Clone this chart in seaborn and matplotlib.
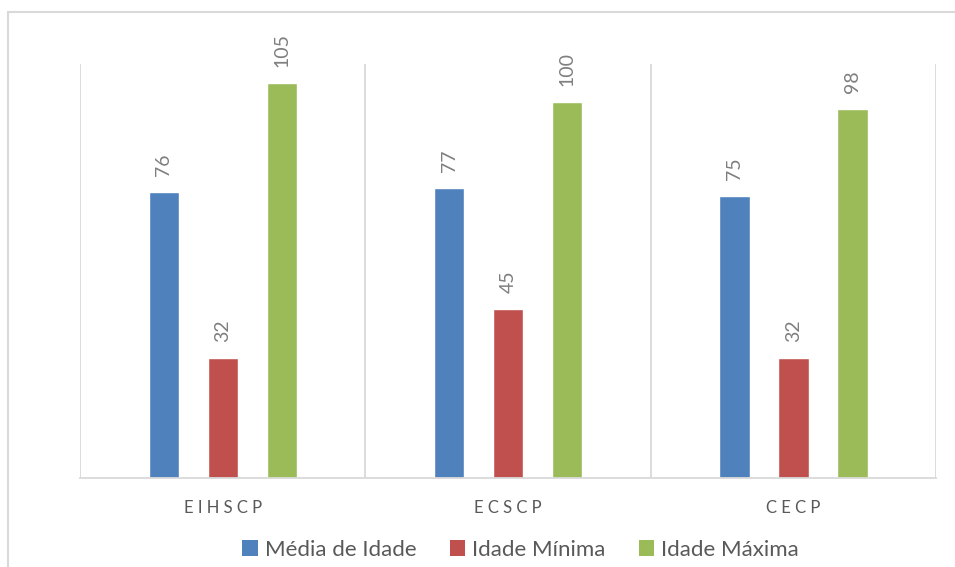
import matplotlib
matplotlib.use("Agg")
import matplotlib.pyplot as plt
import seaborn as sns
import pandas as pd
from matplotlib.patches import Patch
from matplotlib.lines import Line2D

# Hospital / unit groups
categories = ["EIHSCP", "ECSCP", "CECP"]
series = ["Média de Idade", "Idade Mínima", "Idade Máxima"]
media_idade = [76, 77, 75]
idade_minima = [32, 45, 32]
idade_maxima = [105, 100, 98]
colors = ["#4F81BD", "#C0504D", "#9BBB59"]

df = pd.DataFrame({
    "grupo": categories * 3,
    "serie": [series[0]] * 3 + [series[1]] * 3 + [series[2]] * 3,
    "valor": media_idade + idade_minima + idade_maxima,
})

sns.set_theme(style="white")
plt.rcParams["font.family"] = ["Lato", "DejaVu Sans"]

fig = plt.figure(figsize=(9.55, 5.67), dpi=100)
ax = fig.add_axes([0.0838, 0.157, 0.8965, 0.730])

sns.barplot(data=df, x="grupo", y="valor", hue="serie", order=categories,
            hue_order=series, palette=colors, width=0.62, gap=0.49,
            saturation=1, legend=False, ax=ax)

# value labels above each bar
for container in ax.containers:
    for bar in container:
        h = bar.get_height()
        ax.annotate(f"{h:.0f}", (bar.get_x() + bar.get_width() / 2, h),
                    xytext=(0, 16), textcoords="offset pixels",
                    rotation=90, ha="center", va="bottom",
                    fontsize=14, color="#7F7F7F")

ax.set_xlim(-0.5, 2.5)
ax.set_ylim(0, 110)
ax.set_xlabel("")
ax.set_ylabel("")
ax.set_yticks([])
ax.set_xticks(range(len(categories)))
ax.set_xticklabels([" ".join(c) for c in categories], fontsize=12, color="#595959")
ax.tick_params(axis="x", length=0, pad=16)

# vertical separators between groups
for xv in [-0.5, 0.5, 1.5, 2.5]:
    ax.axvline(xv, color="#D9D9D9", lw=1.3, zorder=0)

for side in ["top", "left", "right"]:
    ax.spines[side].set_visible(False)
ax.spines["bottom"].set_color("#D9D9D9")
ax.spines["bottom"].set_linewidth(1.3)

handles = [Patch(facecolor=c, edgecolor="none", label=s) for c, s in zip(colors, series)]
fig.legend(handles=handles, loc="center", bbox_to_anchor=(0.545, 0.03), ncol=3,
           frameon=False, fontsize=16, handlelength=0.7, handleheight=0.7,
           handletextpad=0.3, columnspacing=1.5, labelcolor="#595959")

# outer chart frame
fig.add_artist(Line2D([0.0084, 1.0], [0.979, 0.979], color="#D9D9D9", lw=1.5,
                      transform=fig.transFigure))
fig.add_artist(Line2D([0.0084, 0.0084], [0.0, 0.979], color="#D9D9D9", lw=1.5,
                      transform=fig.transFigure))

fig.savefig("out.png", dpi=100)
